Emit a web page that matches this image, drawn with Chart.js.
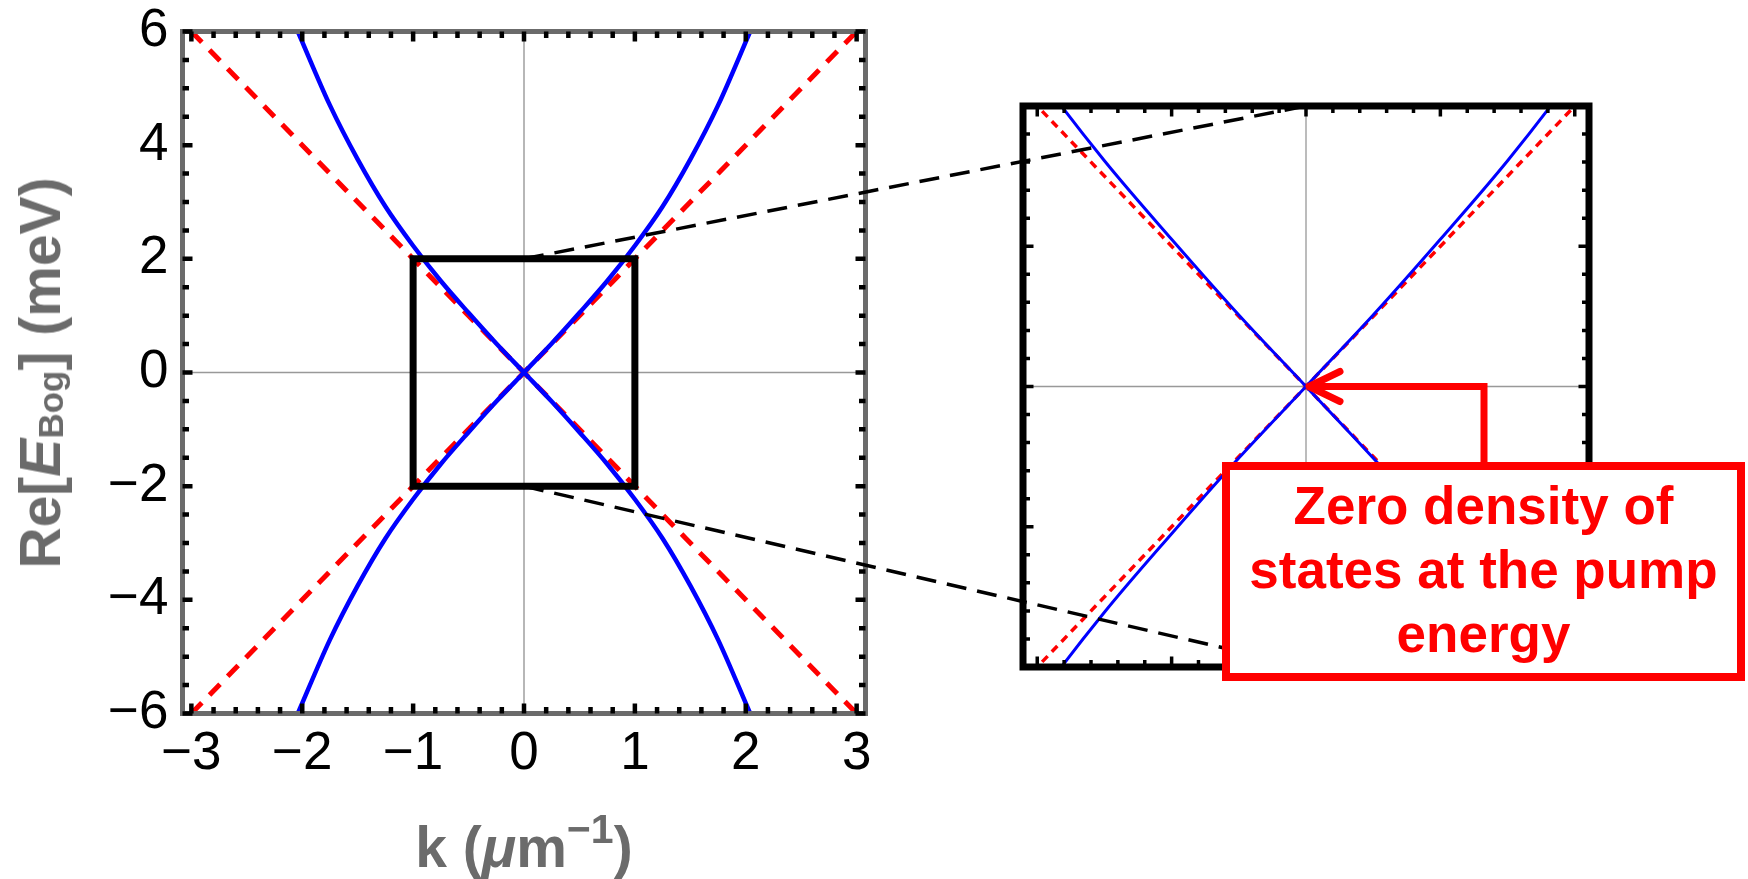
<!DOCTYPE html>
<html>
<head>
<meta charset="utf-8">
<title>Bogoliubov dispersion</title>
<script src="https://cdn.jsdelivr.net/npm/chart.js@4.4.1/dist/chart.umd.min.js"></script>
<style>
  html, body { margin: 0; padding: 0; background: #fff; }
  body { width: 1748px; height: 879px; position: relative; overflow: hidden;
         font-family: "Liberation Sans", Arial, sans-serif; }
  canvas { position: absolute; }
  #main { left: 0; top: 0; }
  #zoom { left: 1000px; top: 80px; }
  #links { left: 0; top: 0; pointer-events: none; }
  .axis-title { position: absolute; font-weight: bold; font-size: 57px; line-height: 64px;
                color: #6b6b6b; white-space: nowrap; }
  .axis-title i { font-style: italic; }
  .axis-title sub { font-size: 35px; vertical-align: -3px; line-height: 0; }
  .axis-title sup { font-size: 41px; vertical-align: 24px; line-height: 0; }
  #ytitle { left: 40px; top: 373px; transform: translate(-50%, -50%) rotate(-90deg); }
  #xtitle { left: 524px; top: 815px; transform: translateX(-50%); }
  #note { position: absolute; left: 1222px; top: 462px; width: 523px; height: 219px;
          box-sizing: border-box; border: 8px solid #ff0000; background: #fff; color: #ff0000;
          font-weight: bold; font-size: 53px; line-height: 64px; text-align: center;
          padding-top: 4px; white-space: nowrap; }
</style>
</head>
<body>
<canvas id="main" width="900" height="879"></canvas>
<canvas id="zoom" width="620" height="620"></canvas>
<canvas id="links" width="1748" height="879"></canvas>
<div id="ytitle" class="axis-title">Re[<i>E</i><sub>Bog</sub>] (meV)</div>
<div id="xtitle" class="axis-title">k (<i>&mu;</i>m<sup>&minus;1</sup>)</div>
<div id="note">Zero density of<br>states at the pump<br>energy</div>

<script>
// Bogoliubov branch for k >= 0 (k in µm^-1, E in meV); the k < 0 side mirrors it
const kBog = [0, 0.25, 0.50, 0.75, 1.00, 1.25, 1.50, 1.75, 2.04];
const eBog = [0, 0.51, 1.05, 1.61, 2.23, 2.92, 3.75, 4.70, 6.00];

// Linear (sound-like) dispersion
const kLin = [-3, 3];
const eLin = [-6, 6];

// Window that is enlarged in the inset
const boxK = [-1, 1, 1, -1, -1];
const boxE = [2, 2, -2, -2, 2];

// Labelled ticks of the main panel
const xTickVals = [-3, -2, -1, 0, 1, 2, 3];
const yTickVals = [-6, -4, -2, 0, 2, 4, 6];

const FONT = "'Liberation Sans', Arial, sans-serif";

// Odd branch through the origin: sign = +1 rises, sign = -1 falls
function oddBranch(sign) {
  const pts = [];
  for (let i = kBog.length - 1; i > 0; i--) pts.push({x: -kBog[i], y: -sign * eBog[i]});
  for (let i = 0; i < kBog.length; i++) pts.push({x: kBog[i], y: sign * eBog[i]});
  return pts;
}
const rising = oddBranch(1);
const falling = oddBranch(-1);
const linUp = kLin.map((k, i) => ({x: k, y: eLin[i]}));
const linDown = kLin.map((k, i) => ({x: k, y: -eLin[i]}));
const boxPts = boxK.map((k, i) => ({x: k, y: boxE[i]}));

const fmt = v => (v < 0 ? '\u2212' + Math.abs(v) : String(v));

// Zero axes, frame and inward tick marks on all four sides
const framePlugin = {
  id: 'frameTicks',
  beforeDatasetsDraw(chart, args, o) {
    const {ctx, chartArea: a, scales: {x, y}} = chart;
    const x0 = x.getPixelForValue(0), y0 = y.getPixelForValue(0);
    ctx.save();
    ctx.strokeStyle = o.axisColor;
    ctx.lineWidth = o.axisWidth;
    ctx.beginPath();
    ctx.moveTo(x0, a.top); ctx.lineTo(x0, a.bottom);
    ctx.moveTo(a.left, y0); ctx.lineTo(a.right, y0);
    ctx.stroke();
    ctx.restore();
  },
  afterDatasetsDraw(chart, args, o) {
    const {ctx, chartArea: a, scales: {x, y}} = chart;
    const marks = (scale, minor, major) => {
      const out = [];
      const n0 = Math.ceil(scale.min / minor - 1e-9);
      const n1 = Math.floor(scale.max / minor + 1e-9);
      const ratio = Math.round(major / minor);
      for (let n = n0; n <= n1; n++) out.push({v: n * minor, major: n % ratio === 0});
      return out;
    };
    ctx.save();
    ctx.strokeStyle = o.frameColor;
    ctx.lineWidth = o.frameWidth;
    ctx.lineJoin = 'miter';
    ctx.strokeRect(a.left, a.top, a.right - a.left, a.bottom - a.top);
    ctx.strokeStyle = o.tickColor;
    ctx.lineWidth = o.tickWidth;
    ctx.lineCap = 'butt';
    ctx.beginPath();
    for (const t of marks(x, o.xMinor, o.xMajor)) {
      const p = x.getPixelForValue(t.v), len = t.major ? o.majorLen : o.minorLen;
      ctx.moveTo(p, a.bottom); ctx.lineTo(p, a.bottom - len);
      ctx.moveTo(p, a.top); ctx.lineTo(p, a.top + len);
    }
    for (const t of marks(y, o.yMinor, o.yMajor)) {
      const p = y.getPixelForValue(t.v), len = t.major ? o.majorLen : o.minorLen;
      ctx.moveTo(a.left, p); ctx.lineTo(a.left + len, p);
      ctx.moveTo(a.right, p); ctx.lineTo(a.right - len, p);
    }
    ctx.stroke();
    ctx.restore();
  }
};

const line = (data, color, width, extra) => Object.assign({
  data, borderColor: color, backgroundColor: color, borderWidth: width,
  showLine: true, pointRadius: 0, pointHoverRadius: 0, fill: false
}, extra || {});

// Main panel
const mainChart = new Chart(document.getElementById('main'), {
  type: 'scatter',
  data: {
    datasets: [
      line(boxPts, '#000000', 7, {borderCapStyle: 'square', borderJoinStyle: 'miter'}),
      line(rising, '#0000ff', 4.5, {cubicInterpolationMode: 'monotone', capBezierPoints: false}),
      line(falling, '#0000ff', 4.5, {cubicInterpolationMode: 'monotone', capBezierPoints: false}),
      line(linUp, '#ff0000', 5, {borderDash: [15, 11]}),
      line(linDown, '#ff0000', 5, {borderDash: [15, 11]})
    ]
  },
  options: {
    responsive: false, animation: false, devicePixelRatio: 1,
    events: [],
    layout: {padding: {top: 31.5, right: 34.5, left: 0, bottom: 0}},
    plugins: {
      legend: {display: false}, tooltip: {enabled: false},
      frameTicks: {
        axisColor: '#999999', axisWidth: 1.4,
        frameColor: '#6b6b6b', frameWidth: 5,
        tickColor: '#000000', tickWidth: 4.5, minorLen: 6.5, majorLen: 10,
        xMinor: 0.2, xMajor: 1, yMinor: 0.5, yMajor: 2
      }
    },
    scales: {
      x: {
        type: 'linear', min: -3.08, max: 3.08,
        grid: {display: false, drawTicks: false}, border: {display: false},
        afterBuildTicks: s => { s.ticks = xTickVals.map(v => ({value: v})); },
        afterFit: s => { s.height = 165.5; s.paddingLeft = 0; s.paddingRight = 0; },
        ticks: {color: '#000', font: {family: FONT, size: 53}, padding: 9,
                maxRotation: 0, minRotation: 0, autoSkip: false, callback: fmt}
      },
      y: {
        type: 'linear', min: -6, max: 6,
        grid: {display: false, drawTicks: false}, border: {display: false},
        afterBuildTicks: s => { s.ticks = yTickVals.map(v => ({value: v})); },
        afterFit: s => { s.width = 182.5; s.paddingTop = 0; s.paddingBottom = 0; },
        ticks: {color: '#000', font: {family: FONT, size: 53}, padding: 14,
                autoSkip: false, callback: fmt}
      }
    }
  },
  plugins: [framePlugin]
});

// Inset: the same curves over the enlarged window
const zoomChart = new Chart(document.getElementById('zoom'), {
  type: 'scatter',
  data: {
    datasets: [
      line(rising, '#0000ff', 3, {cubicInterpolationMode: 'monotone', capBezierPoints: false}),
      line(falling, '#0000ff', 3, {cubicInterpolationMode: 'monotone', capBezierPoints: false}),
      line(linUp, '#ff0000', 3.5, {borderDash: [8, 6]}),
      line(linDown, '#ff0000', 3.5, {borderDash: [8, 6]})
    ]
  },
  options: {
    responsive: false, animation: false, devicePixelRatio: 1,
    events: [],
    layout: {padding: {top: 26, right: 31, left: 23, bottom: 33}},
    plugins: {
      legend: {display: false}, tooltip: {enabled: false},
      frameTicks: {
        axisColor: '#999999', axisWidth: 1.3,
        frameColor: '#000000', frameWidth: 7,
        tickColor: '#000000', tickWidth: 3.5, minorLen: 7, majorLen: 10.5,
        xMinor: 0.1, xMajor: 0.5, yMinor: 0.2, yMajor: 1
      }
    },
    scales: {
      x: {type: 'linear', min: -1.053, max: 1.053, display: false},
      y: {type: 'linear', min: -2, max: 2, display: false}
    }
  },
  plugins: [framePlugin]
});

// Dashed connectors from the window to the inset, and the pointer arrow
(function drawLinks() {
  const c = document.getElementById('links').getContext('2d');
  const zoomEl = document.getElementById('zoom');
  const zLeft = zoomEl.offsetLeft, zTop = zoomEl.offsetTop;
  const mx = v => mainChart.scales.x.getPixelForValue(v);
  const my = v => mainChart.scales.y.getPixelForValue(v);
  const zx = v => zLeft + zoomChart.scales.x.getPixelForValue(v);
  const zy = v => zTop + zoomChart.scales.y.getPixelForValue(v);

  c.strokeStyle = '#000';
  c.lineWidth = 3.5;
  c.setLineDash([20, 11]);
  for (const e of [Math.max(...boxE), Math.min(...boxE)]) {
    c.beginPath();
    c.moveTo(mx(0), my(e));
    c.lineTo(zx(0), zy(e));
    c.stroke();
  }

  const tipX = zx(0), tipY = zy(0);
  const stemX = 1484, stemTop = 466;
  c.setLineDash([]);
  c.strokeStyle = '#ff0000';
  c.lineWidth = 7;
  c.lineJoin = 'miter';
  c.beginPath();
  c.moveTo(stemX, stemTop);
  c.lineTo(stemX, tipY);
  c.lineTo(tipX + 4, tipY);
  c.stroke();
  c.lineCap = 'round';
  c.lineJoin = 'round';
  c.beginPath();
  c.moveTo(tipX + 34, tipY - 15);
  c.lineTo(tipX + 3, tipY);
  c.lineTo(tipX + 34, tipY + 15);
  c.stroke();
})();
</script>
</body>
</html>
